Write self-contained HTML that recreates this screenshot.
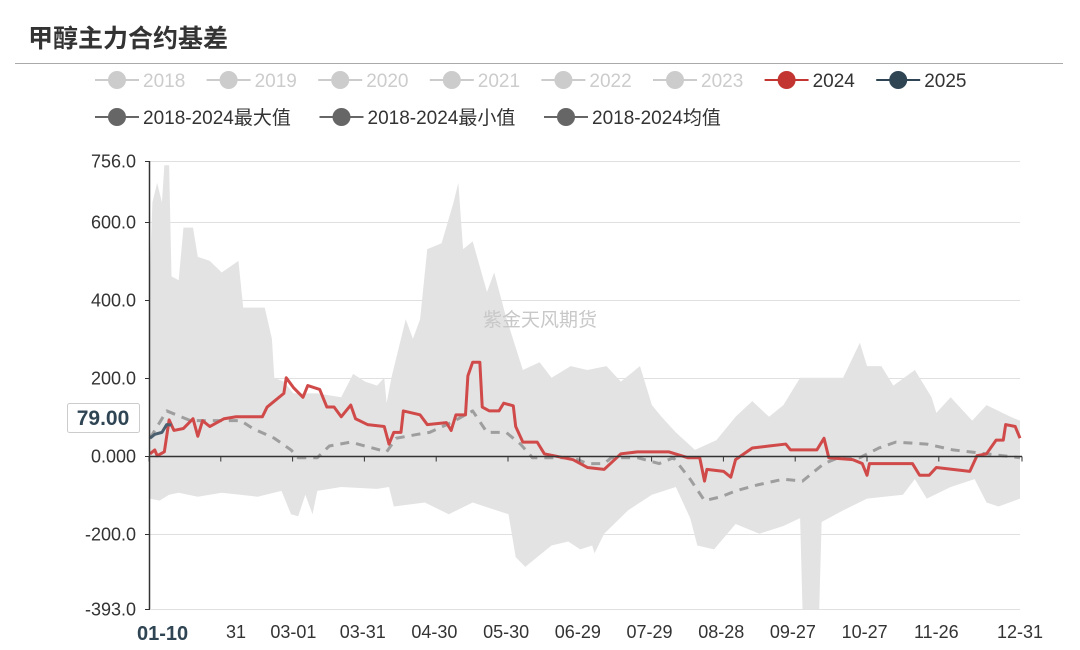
<!DOCTYPE html>
<html><head><meta charset="utf-8">
<style>
body{margin:0;background:#fff;font-family:"Liberation Sans","Noto Sans CJK SC","WenQuanYi Zen Hei",sans-serif;}
#wrap{position:relative;width:1080px;height:650px;overflow:hidden;}
svg text{font-family:"Liberation Sans","Noto Sans CJK SC","WenQuanYi Zen Hei",sans-serif;}
</style></head>
<body>
<div id="wrap">
<svg id="chart" width="1080" height="650">
<text x="28" y="47" font-size="25" font-weight="bold" fill="#333">甲醇主力合约基差</text>
<line x1="15" y1="63.5" x2="1063" y2="63.5" stroke="#aaa" stroke-width="1"/>
<g id="grid"></g><g id="band"></g>
<text x="540" y="326" font-size="19" fill="#c8c8c8" text-anchor="middle" style='font-family:"Noto Sans CJK SC","WenQuanYi Zen Hei",sans-serif'>紫金天风期货</text>
<g id="lines"></g><g id="axes"></g><g id="legend"></g>
<g>
<rect x="67.5" y="403.5" width="72" height="29" fill="#fff" stroke="#ccc" rx="2"/>
<text x="103" y="425" font-size="21" font-weight="bold" fill="#2f4554" text-anchor="middle">79.00</text>
</g>
</svg>
</div>
<script>
const yTicks=[756,600,400,200,0,-200,-393];
const yTickLabels=["756.0","600.0","400.0","200.0","0.000","-200.0","-393.0"];
const xLabelDays=[36,60,89,119,149,179,209,239,269,299,329,364];
const xLabelText=["31","03-01","03-31","04-30","05-30","06-29","07-29","08-28","09-27","10-27","11-26","12-31"];
const maxDays=[0,1,3,5,6,8,9,12,14,18,20,25,30,37,39,48,51,52,56,60,70,80,85,90,95,98,99,101,103,107,110,113,116,122,127,129,131,135,141,144,149,156,163,168,176,183,191,197,205,210,214,220,228,237,245,252,259,265,272,278,290,297,300,306,311,320,327,329,335,344,350,360,364];
const maxVals=[475,650,700,650,745,745,460,450,585,585,510,500,470,500,380,380,300,200,190,160,160,150,210,190,180,200,135,200,250,350,300,350,530,545,650,700,530,550,420,470,355,220,240,200,230,220,230,190,230,130,100,60,15,40,100,140,100,130,200,200,200,290,230,230,180,220,150,110,150,90,130,100,90];
const minDays=[0,4,8,12,20,30,45,55,59,62,65,68,70,80,95,100,102,115,125,135,145,150,153,157,162,168,175,180,185,186,190,200,210,220,226,229,236,245,255,265,272,273,280,281,290,300,315,320,325,335,345,350,355,364];
const minVals=[-110,-115,-100,-95,-105,-95,-105,-90,-150,-155,-100,-150,-90,-80,-85,-80,-130,-120,-150,-120,-140,-150,-260,-285,-260,-230,-220,-240,-230,-250,-200,-140,-100,-80,-160,-230,-240,-175,-200,-180,-160,-393,-393,-170,-140,-110,-100,-60,-110,-80,-60,-120,-130,-110];
const s2024Days=[0,2,3,6,8,10,14,18,20,22,25,31,36,47,49,52,56,57,60,64,66,71,74,77,80,84,86,91,98,100,102,105,106,113,116,124,126,128,132,133,135,138,139,142,146,148,152,153,156,162,165,177,183,190,197,204,217,225,230,232,233,240,243,245,252,259,266,268,279,282,284,294,298,300,301,319,322,326,329,343,346,350,354,357,358,362,364];
const s2024Vals=[5,15,0,10,92,65,70,95,50,90,75,95,100,100,125,140,160,200,175,150,180,170,125,125,100,130,95,80,75,30,60,60,115,105,80,85,65,105,105,205,240,240,125,115,115,135,128,75,35,35,5,-10,-30,-35,5,10,10,-5,-5,-65,-35,-40,-55,-10,20,25,30,15,15,45,-5,-10,-20,-50,-20,-20,-50,-50,-30,-40,0,5,40,40,80,75,45];
const avgDays=[0,7,17,38,43,52,59,62,70,75,84,93,99,103,112,117,126,135,141,149,155,160,177,183,190,193,204,213,219,226,232,239,245,254,265,273,282,288,297,305,312,325,336,350,364];
const avgVals=[45,115,90,90,70,45,15,-5,-5,25,35,20,10,45,55,60,85,115,60,60,30,-5,-5,-20,-20,-5,-5,-20,-5,-60,-115,-105,-90,-75,-60,-65,-20,-5,-5,20,35,30,15,5,-5];
const s2025Days=[0,2,5,7,9];
const s2025Vals=[45,55,60,80,79];

const X0=150,X1=1020,YT=161,YB=609,VMAX=756,VMIN=-393;
const xs=d=>X0+d*(X1-X0)/364;
const ys=v=>YT+(VMAX-v)*(YB-YT)/(VMAX-VMIN);
const NS="http://www.w3.org/2000/svg";
function mk(tag,attrs,parent){const e=document.createElementNS(NS,tag);for(const k in attrs)e.setAttribute(k,attrs[k]);parent.appendChild(e);return e;}
const grid=document.getElementById('grid'),axes=document.getElementById('axes'),band=document.getElementById('band'),lines=document.getElementById('lines'),legend=document.getElementById('legend');

yTicks.forEach((v,i)=>{
  const y=Math.round(ys(v))+0.5;
  const gl=mk('line',{x1:X0,x2:X1,y1:y,y2:y,stroke:'#e0e0e0','stroke-width':1},grid);
  
  
  const tk=mk('line',{x1:X0-5,x2:X0,y1:y,y2:y,stroke:'#333','stroke-width':1},axes);
  
  
  const t=mk('text',{x:136,y:y+6,'font-size':18,fill:'#333','text-anchor':'end'},axes);
  t.textContent=yTickLabels[i];
  
  
});

let pts=maxDays.map((d,i)=>xs(d)+','+ys(maxVals[i]));
for(let i=minDays.length-1;i>=0;i--)pts.push(xs(minDays[i])+','+ys(minVals[i]));
const bp=mk('polygon',{points:pts.join(' '),fill:'#e3e3e3'},band);



function line(days,vals,attrs,name){
  const p=mk('polyline',Object.assign({points:days.map((d,i)=>xs(d)+','+ys(vals[i])).join(' '),fill:'none','stroke-linejoin':'round'},attrs),lines);
  
  
}
line(avgDays,avgVals,{stroke:'#9e9e9e','stroke-width':3,'stroke-dasharray':'9,7'},'avg-line');
line(s2024Days,s2024Vals,{stroke:'#d04a4a','stroke-width':3},'series-2024-line');
line(s2025Days,s2025Vals,{stroke:'#4a5f70','stroke-width':3},'series-2025-line');

const zy=Math.round(ys(0))+0.5;
const za=mk('line',{x1:X0,x2:X1+2,y1:zy,y2:zy,stroke:'#333','stroke-width':1.5},axes);


const ya=mk('line',{x1:X0-0.5,x2:X0-0.5,y1:YT,y2:YB,stroke:'#333','stroke-width':1.5},axes);


for(let k=0;k<12;k++){
  const x=X0-1+k*71.8;
  const tk=mk('line',{x1:x,x2:x,y1:zy,y2:zy+5,stroke:'#333','stroke-width':1},axes);
  
  
}
const tl=mk('line',{x1:X1+2,x2:X1+2,y1:zy,y2:zy+5,stroke:'#333','stroke-width':1},axes);


const fl=mk('text',{x:137,y:640,'font-size':20,'font-weight':'bold',fill:'#2f4554'},axes);
fl.textContent='01-10';


xLabelDays.forEach((d,i)=>{
  const t=mk('text',{x:xs(d),y:638,'font-size':18,fill:'#333','text-anchor':'middle'},axes);
  t.textContent=xLabelText[i];
  
  
});

const legNames=["2018","2019","2020","2021","2022","2023","2024","2025","2018-2024最大值","2018-2024最小值","2018-2024均值"];
const legColors=["#ccc","#ccc","#ccc","#ccc","#ccc","#ccc","#c23531","#2f4554","#666","#666","#666"];
const legText=["#ccc","#ccc","#ccc","#ccc","#ccc","#ccc","#333","#333","#333","#333","#333"];
legNames.forEach((n,i)=>{
  const row=i<8?0:1;
  const cx=row===0?117+i*111.6:117+(i-8)*224.5;
  const cy=row===0?80:117;
  const g=mk('g',{},legend);
  
  
  mk('line',{x1:cx-22,x2:cx+22,y1:cy,y2:cy,stroke:legColors[i],'stroke-width':2},g);
  mk('circle',{cx:cx,cy:cy,r:9,fill:legColors[i]},g);
  const t=mk('text',{x:cx+26,y:cy+7,'font-size':19,fill:legText[i]},g);
  t.textContent=n;
});
</script>
</body></html>
